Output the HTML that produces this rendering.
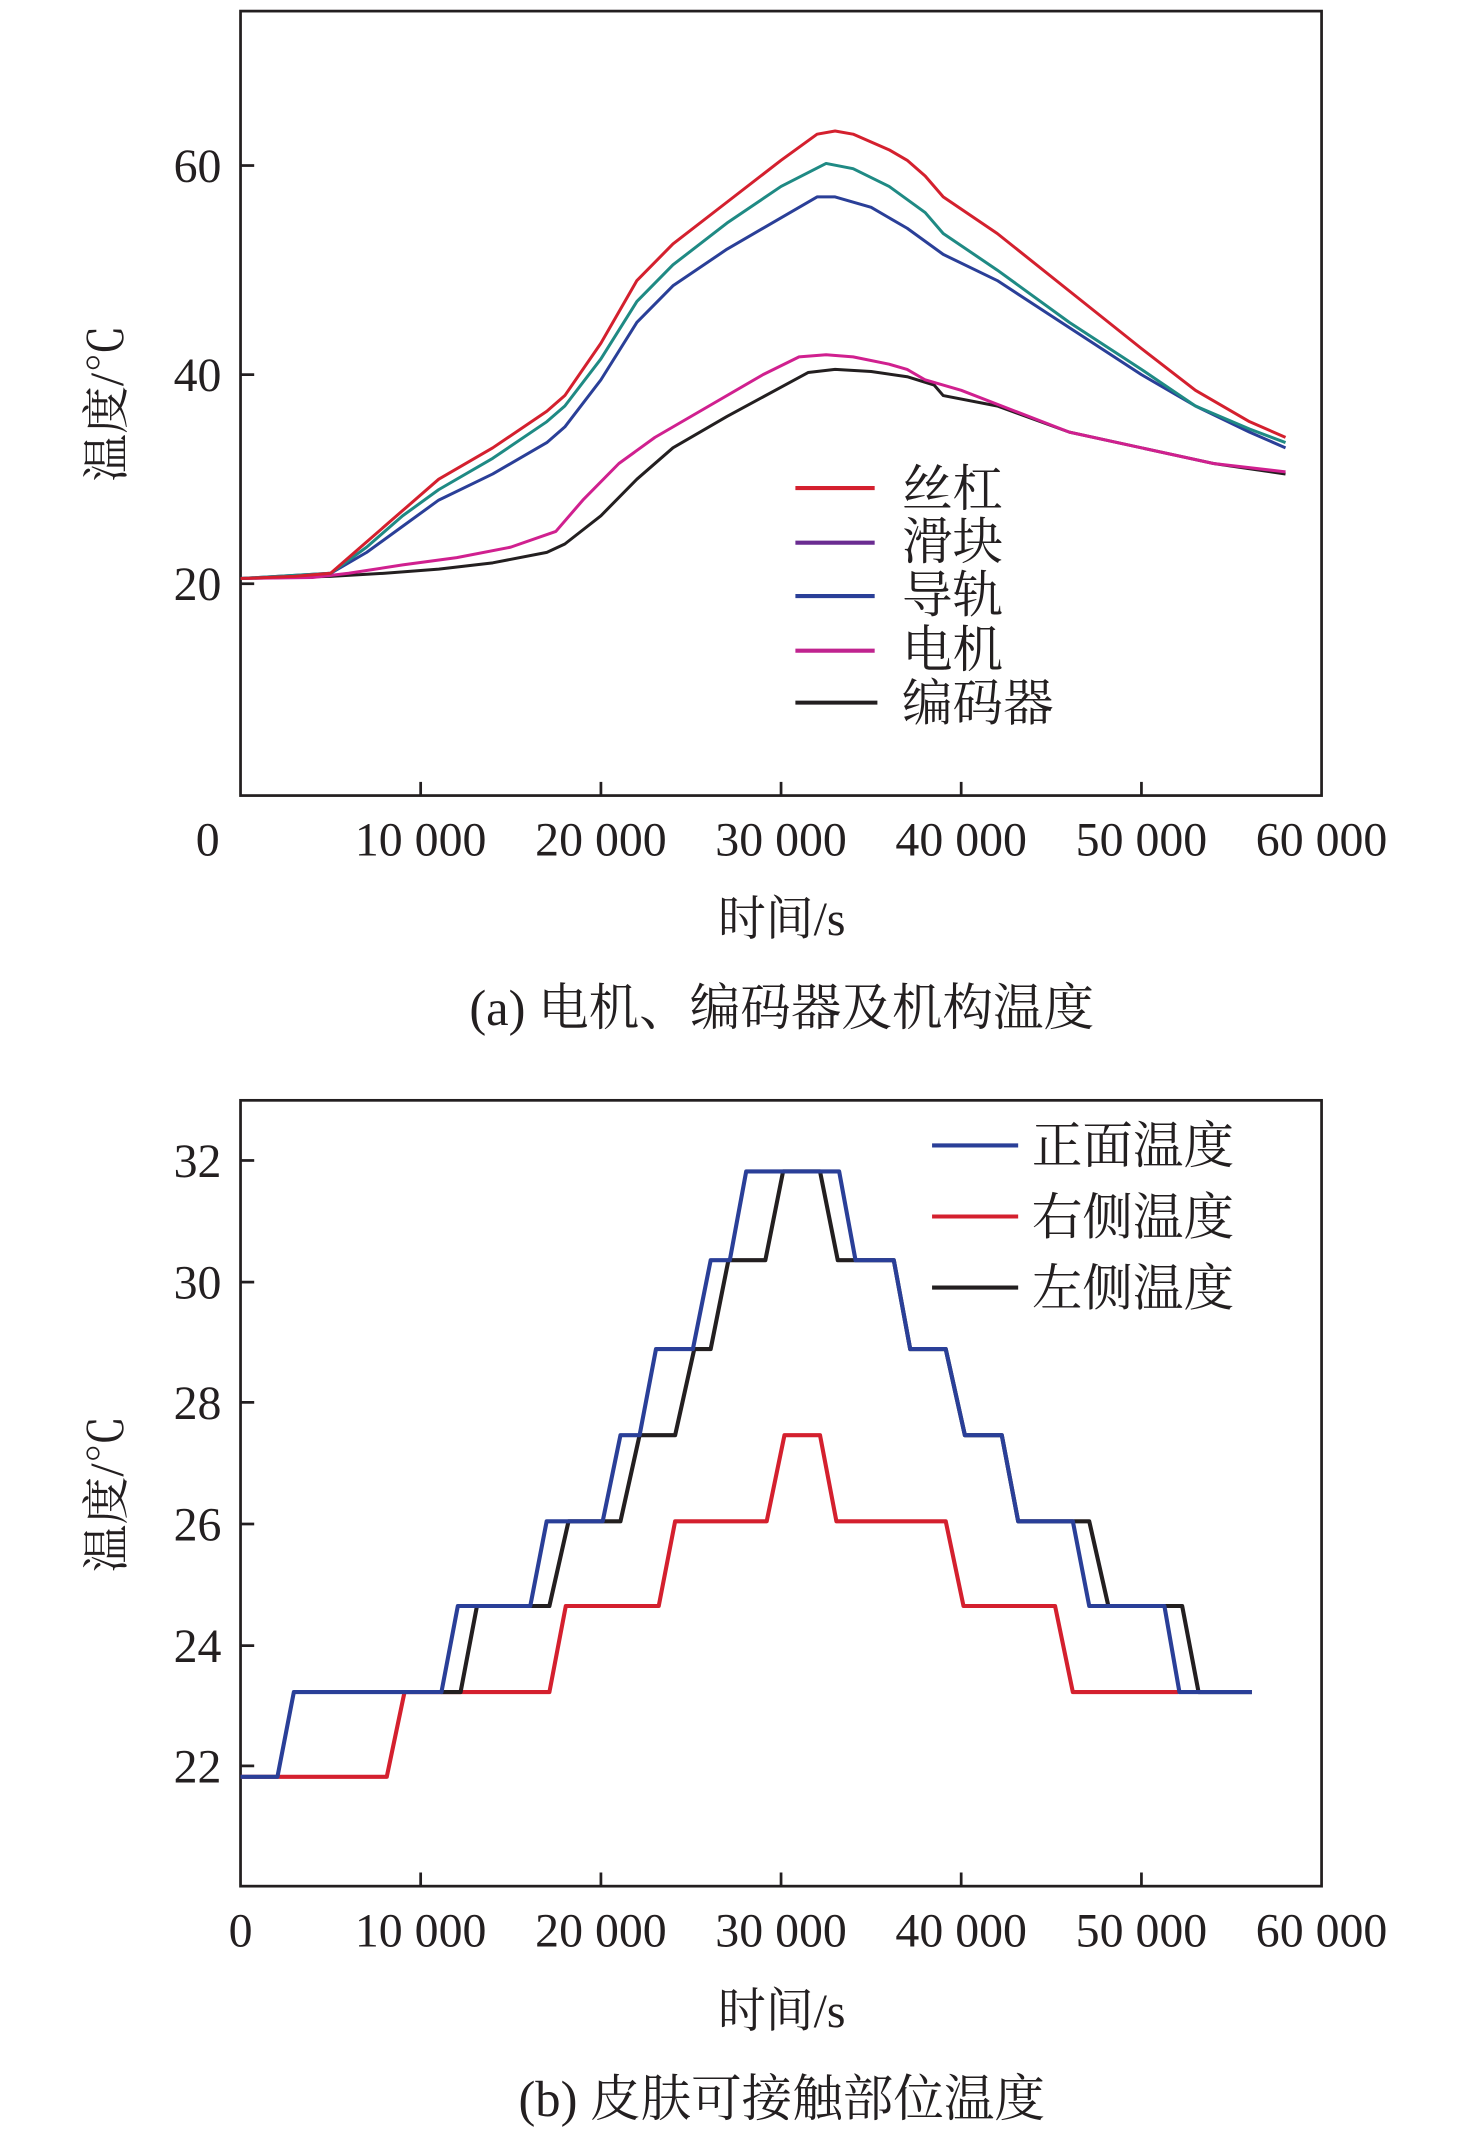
<!DOCTYPE html>
<html><head><meta charset="utf-8"><style>
html,body{margin:0;padding:0;background:#fff}
svg{display:block}
text{font-family:"Liberation Serif","Noto Serif CJK SC",serif;fill:#231f20}
</style></head><body>
<svg width="1476" height="2146" viewBox="0 0 1080 1570" xmlns="http://www.w3.org/2000/svg">
<!-- TOP PLOT -->
<rect x="176" y="8" width="791" height="574" fill="none" stroke="#231f20" stroke-width="2"/>
<g stroke="#231f20" stroke-width="2">
<line x1="307.8" y1="582" x2="307.8" y2="572"/><line x1="439.7" y1="582" x2="439.7" y2="572"/>
<line x1="571.5" y1="582" x2="571.5" y2="572"/><line x1="703.3" y1="582" x2="703.3" y2="572"/>
<line x1="835.2" y1="582" x2="835.2" y2="572"/>
<line x1="176" y1="427" x2="186" y2="427"/><line x1="176" y1="274" x2="186" y2="274"/><line x1="176" y1="121" x2="186" y2="121"/>
</g>
<g font-size="35" text-anchor="middle">
<text x="152" y="626">0</text><text x="307.8" y="626">10 000</text><text x="439.7" y="626">20 000</text>
<text x="571.5" y="626">30 000</text><text x="703.3" y="626">40 000</text><text x="835.2" y="626">50 000</text>
<text x="967" y="626">60 000</text>
</g>
<g font-size="35" text-anchor="end">
<text x="162" y="439">20</text><text x="162" y="286">40</text><text x="162" y="133">60</text>
</g>
<text x="572" y="684" font-size="35" text-anchor="middle">时间/s</text>
<text x="0" y="0" font-size="35" text-anchor="middle" transform="translate(90,295) rotate(-90)">温度/℃</text>
<text x="572" y="750" font-size="37" text-anchor="middle">(a) 电机、编码器及机构温度</text>
<g transform="translate(176,427) scale(0.0131833,-7.65)" fill="none" stroke-width="3" stroke-linejoin="round">
<polyline vector-effect="non-scaling-stroke" stroke="#231f20" points="0,0.5 5000,0.7 8000,1 11000,1.4 14000,2 17000,3 18000,3.8 20000,6.5 22000,10 24000,13 27000,16 30000,18.8 31500,20.2 33000,20.5 35000,20.3 37000,19.8 38500,19 39000,18 42000,17 46000,14.5 50000,13 54000,11.5 58000,10.5"/>
<polyline vector-effect="non-scaling-stroke" stroke="#d0208f" points="0,0.5 4000,0.6 6000,1 9000,1.8 12000,2.5 15000,3.5 17500,5 19000,8 21000,11.5 23000,14 26000,17 29000,20 31000,21.7 32500,21.9 34000,21.7 36000,21 37000,20.5 38000,19.5 40000,18.5 43000,16.5 46000,14.5 50000,13 54000,11.5 58000,10.7"/>
<polyline vector-effect="non-scaling-stroke" stroke="#2a3f98" points="0,0.5 5000,1 7000,3 9000,5.5 11000,8 14000,10.5 17000,13.5 18000,15 20000,19.5 22000,25 24000,28.5 27000,32 30000,35 32000,37 33000,37 35000,36 37000,34 39000,31.5 42000,29 46000,24.5 50000,20 53000,17 56000,14.5 58000,13"/>
<polyline vector-effect="non-scaling-stroke" stroke="#1f8a84" points="0,0.5 5000,1 7000,3.5 9000,6.5 11000,9 14000,12 17000,15.5 18000,17 20000,21.5 22000,27 24000,30.5 27000,34.5 30000,38 32500,40.2 34000,39.7 36000,38 38000,35.5 39000,33.5 42000,30 46000,25 50000,20.5 53000,17 56000,14.8 58000,13.5"/>
<polyline vector-effect="non-scaling-stroke" stroke="#d4202e" points="0,0.5 3000,0.7 5000,1 7000,4 9000,7 11000,10 14000,13 17000,16.5 18000,18 20000,23 22000,29 24000,32.5 27000,36.5 30000,40.5 32000,43 33000,43.3 34000,43 36000,41.5 37000,40.5 38000,39 39000,37 42000,33.5 46000,28 50000,22.5 53000,18.5 56000,15.5 58000,14"/>
</g>
<g stroke-width="3">
<line x1="582" y1="357" x2="640" y2="357" stroke="#d4202e"/>
<line x1="582" y1="397" x2="640" y2="397" stroke="#6a2c91"/>
<line x1="582" y1="436" x2="640" y2="436" stroke="#2a3f98"/>
<line x1="582" y1="476" x2="640" y2="476" stroke="#c0248f"/>
<line x1="582" y1="514" x2="642" y2="514" stroke="#231f20"/>
</g>
<g font-size="37">
<text x="660" y="370">丝杠</text><text x="660" y="409">滑块</text><text x="660" y="448">导轨</text>
<text x="660" y="488">电机</text><text x="660" y="527">编码器</text>
</g>

<!-- BOTTOM PLOT -->
<rect x="176" y="805" width="791" height="575" fill="none" stroke="#231f20" stroke-width="2"/>
<g stroke="#231f20" stroke-width="2">
<line x1="307.8" y1="1380" x2="307.8" y2="1370"/><line x1="439.7" y1="1380" x2="439.7" y2="1370"/>
<line x1="571.5" y1="1380" x2="571.5" y2="1370"/><line x1="703.3" y1="1380" x2="703.3" y2="1370"/>
<line x1="835.2" y1="1380" x2="835.2" y2="1370"/>
<line x1="176" y1="1292" x2="186" y2="1292"/><line x1="176" y1="1204" x2="186" y2="1204"/>
<line x1="176" y1="1115" x2="186" y2="1115"/><line x1="176" y1="1026" x2="186" y2="1026"/>
<line x1="176" y1="938" x2="186" y2="938"/><line x1="176" y1="849" x2="186" y2="849"/>
</g>
<g font-size="35" text-anchor="middle">
<text x="176" y="1424">0</text><text x="307.8" y="1424">10 000</text><text x="439.7" y="1424">20 000</text>
<text x="571.5" y="1424">30 000</text><text x="703.3" y="1424">40 000</text><text x="835.2" y="1424">50 000</text>
<text x="967" y="1424">60 000</text>
</g>
<g font-size="35" text-anchor="end">
<text x="162" y="1304">22</text><text x="162" y="1216">24</text><text x="162" y="1127">26</text>
<text x="162" y="1038">28</text><text x="162" y="950">30</text><text x="162" y="861">32</text>
</g>
<text x="572" y="1483" font-size="35" text-anchor="middle">时间/s</text>
<text x="0" y="0" font-size="35" text-anchor="middle" transform="translate(90,1093) rotate(-90)">温度/℃</text>
<text x="572" y="1548" font-size="37" text-anchor="middle">(b) 皮肤可接触部位温度</text>
<g fill="none" stroke-width="3" stroke-linejoin="round">
<polyline stroke="#d4202e" points="176,1300 283,1300 296,1238 402,1238 414,1175 482,1175 494,1113 561,1113 574,1050 600,1050 612,1113 692,1113 705,1175 772,1175 785,1238 862,1238"/>
<polyline stroke="#231f20" points="323,1238 337,1238 349,1175 402,1175 416,1113 454,1113 468,1050 494,1050 508,987 520,987 533,922 560,922 573,857 600,857 613,922 654,922 666,987 692,987 706,1050 733,1050 745,1113 797,1113 811,1175 865,1175 877,1238 916,1238"/>
<polyline stroke="#2a3f98" points="176,1300 203,1300 215,1238 323,1238 335,1175 388,1175 400,1113 441,1113 454,1050 468,1050 480,987 507,987 520,922 534,922 546,857 614,857 626,922 654,922 666,987 692,987 706,1050 733,1050 745,1113 785,1113 797,1175 852,1175 863,1238 916,1238"/>
</g>
<g stroke-width="3">
<line x1="682" y1="838" x2="745" y2="838" stroke="#2a3f98"/>
<line x1="682" y1="890" x2="745" y2="890" stroke="#d4202e"/>
<line x1="682" y1="942" x2="745" y2="942" stroke="#231f20"/>
</g>
<g font-size="37">
<text x="755" y="851">正面温度</text><text x="755" y="903">右侧温度</text><text x="755" y="955">左侧温度</text>
</g>
</svg>
</body></html>
